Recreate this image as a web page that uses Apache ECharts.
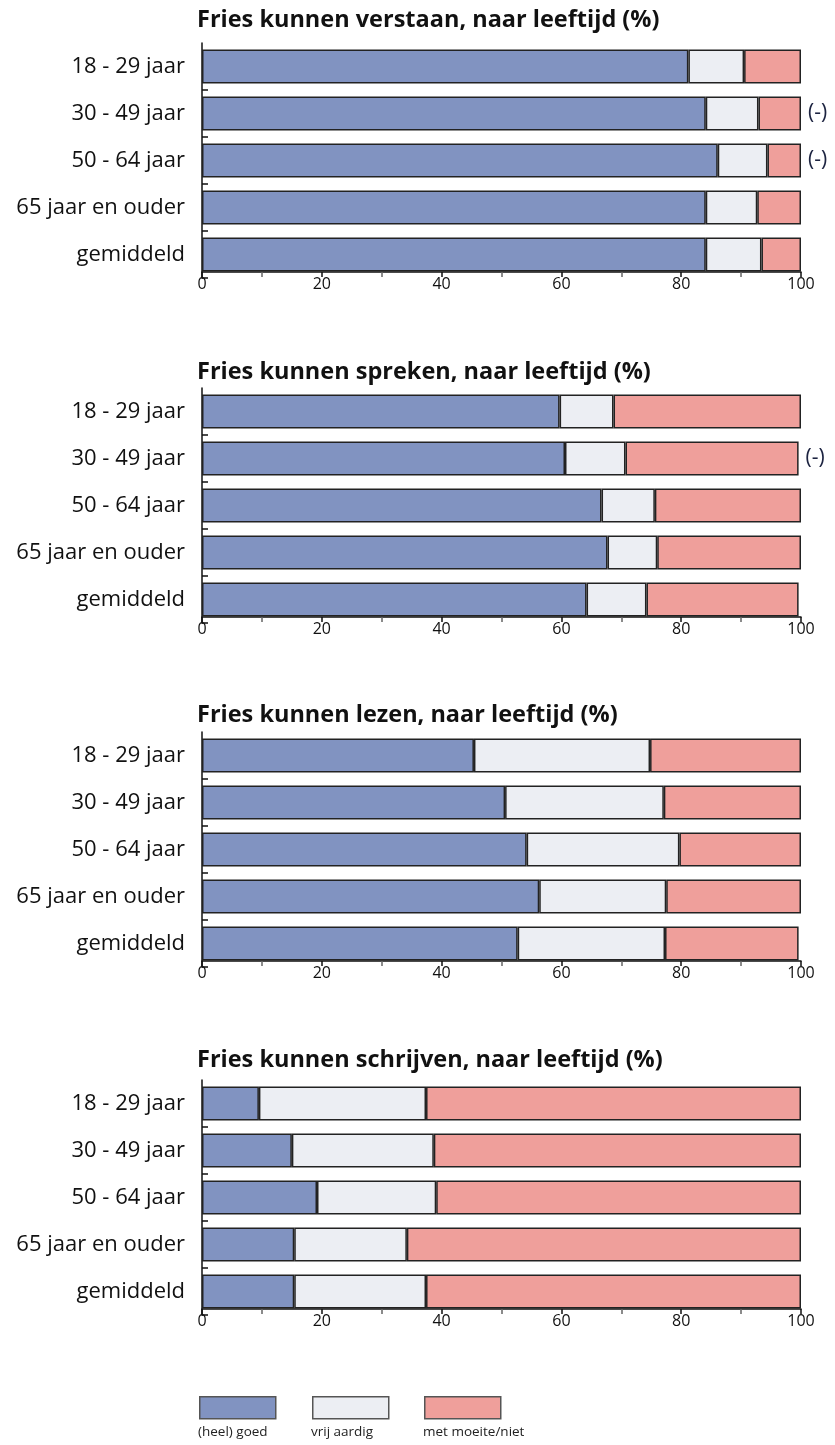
<!DOCTYPE html>
<html><head><meta charset="utf-8">
<script src="https://cdn.jsdelivr.net/npm/echarts@6/dist/echarts.min.js"></script>
<style>html,body{margin:0;padding:0;background:#fff}#c{width:835px;height:1445px}</style>
</head><body><div id="c"></div>
<script>
// ---- data ----
const categories = ['18 - 29 jaar', '30 - 49 jaar', '50 - 64 jaar', '65 jaar en ouder', 'gemiddeld'];
const seriesNames = ['(heel) goed', 'vrij aardig', 'met moeite/niet'];
const xTickValues = [0, 20, 40, 60, 80, 100];
const chartTitles = [
  'Fries kunnen verstaan, naar leeftijd (%)',
  'Fries kunnen spreken, naar leeftijd (%)',
  'Fries kunnen lezen, naar leeftijd (%)',
  'Fries kunnen schrijven, naar leeftijd (%)'
];
const verstaanGoed   = [81.2, 84.1, 86.1, 84.1, 84.1];
const verstaanVrij   = [9.3, 8.8, 8.3, 8.6, 9.3];
const verstaanMoeite = [9.5, 7.1, 5.6, 7.3, 6.6];
const sprekenGoed    = [59.7, 60.6, 66.7, 67.7, 64.2];
const sprekenVrij    = [9.0, 10.1, 8.9, 8.3, 10.0];
const sprekenMoeite  = [31.3, 28.9, 24.4, 24.0, 25.4];
const lezenGoed      = [45.4, 50.6, 54.2, 56.3, 52.7];
const lezenVrij      = [29.4, 26.5, 25.5, 21.2, 24.6];
const lezenMoeite    = [25.2, 22.9, 20.3, 22.5, 22.3];
const schrijvenGoed   = [9.5, 15.0, 19.2, 15.4, 15.4];
const schrijvenVrij   = [27.9, 23.7, 19.9, 18.8, 22.0];
const schrijvenMoeite = [62.6, 61.3, 60.9, 65.8, 62.6];
// "(-)" markers per chart / category
const verstaanFlags  = [false, true, true, false, false];
const sprekenFlags   = [false, true, false, false, false];
const lezenFlags     = [false, false, false, false, false];
const schrijvenFlags = [false, false, false, false, false];
const flagText = '(-)';

// ---- styling / layout ----
const colors = ['#8193C1', '#ECEEF3', '#EF9F9B'];
const FONT = '"Open Sans", Lato, sans-serif';
const gridTops = [43, 388, 732, 1080];
const titleTops = [8, 360, 703, 1048];
const charts = [
  [verstaanGoed, verstaanVrij, verstaanMoeite, verstaanFlags],
  [sprekenGoed, sprekenVrij, sprekenMoeite, sprekenFlags],
  [lezenGoed, lezenVrij, lezenMoeite, lezenFlags],
  [schrijvenGoed, schrijvenVrij, schrijvenMoeite, schrijvenFlags]
];

const option = {
  animation: false,
  backgroundColor: '#fff',
  title: [], grid: [], xAxis: [], yAxis: [], series: [], graphic: []
};

charts.forEach((c, i) => {
  option.title.push({
    text: chartTitles[i], left: 197, top: titleTops[i], padding: 0,
    textStyle: { fontFamily: FONT, fontWeight: 'bold', fontSize: 23.5, color: '#111' }
  });
  option.grid.push({ left: 202, width: 599, top: gridTops[i], height: 235, containLabel: false });
  option.xAxis.push({
    type: 'value', gridIndex: i, min: xTickValues[0], max: xTickValues[xTickValues.length - 1],
    interval: xTickValues[1] - xTickValues[0], offset: -6,
    axisLine: { show: true, lineStyle: { color: '#111', width: 1.5 } },
    axisTick: { show: true, length: 5, lineStyle: { color: '#111', width: 1.5 } },
    minorTick: { show: true, splitNumber: 2, length: 5, lineStyle: { color: '#666', width: 1.5 } },
    splitLine: { show: false },
    axisLabel: { margin: 4, fontFamily: FONT, fontSize: 16, color: '#111' }
  });
  option.yAxis.push({
    type: 'category', gridIndex: i, data: categories, inverse: true,
    axisLine: { show: true, lineStyle: { color: '#111', width: 1.5 } },
    axisTick: { show: true, inside: true, length: 6, lineStyle: { color: '#111', width: 1.5 },
      interval: function (idx) { return idx > 0; } },
    axisLabel: { margin: 17, fontFamily: FONT, fontSize: 22, color: '#111' }
  });
  for (let s = 0; s < 3; s++) {
    const flags = c[3];
    option.series.push({
      type: 'bar', name: seriesNames[s], stack: 'st' + i,
      xAxisIndex: i, yAxisIndex: i, data: c[s], barWidth: 34,
      itemStyle: { color: colors[s], borderColor: '#222', borderWidth: 1.5 },
      label: s === 2 ? {
        show: true, position: 'right', distance: 7,
        fontFamily: FONT, fontSize: 21, color: '#1c2340',
        formatter: p => flags[p.dataIndex] ? flagText : ''
      } : { show: false }
    });
  }
});

// legend (boxes with labels underneath)
const legendX = [199, 312, 424];
seriesNames.forEach((n, s) => {
  option.graphic.push({
    type: 'rect', left: legendX[s], top: 1396,
    shape: { width: 76, height: 22 },
    style: { fill: colors[s], stroke: '#555', lineWidth: 1.5 }
  });
  option.graphic.push({
    type: 'text', left: legendX[s] - 1, top: 1425,
    style: { text: n, font: '13.5px ' + FONT, fill: '#222' }
  });
});

const chart = echarts.init(document.getElementById('c'), null, { renderer: 'canvas' });
chart.setOption(option);
</script>
</body></html>
